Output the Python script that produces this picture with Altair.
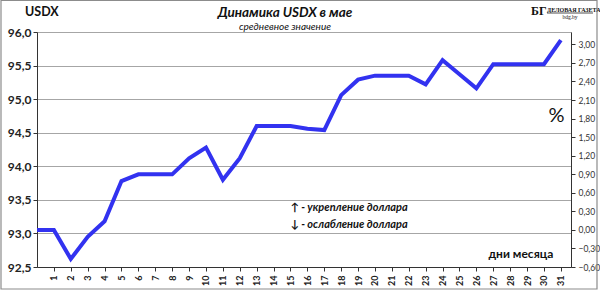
import altair as alt
import pandas as pd

# ---- data ----
days = list(range(0, 32))
usdx = [93.05, 93.05, 92.62, 92.95, 93.18, 93.78, 93.88, 93.88, 93.88, 94.12,
        94.28, 93.80, 94.12, 94.60, 94.60, 94.60, 94.56, 94.54, 95.06, 95.29,
        95.35, 95.35, 95.35, 95.22, 95.58, 95.37, 95.16, 95.52, 95.52, 95.52,
        95.52, 95.88]
base_value = 93.05
left_ticks = [92.5, 93.0, 93.5, 94.0, 94.5, 95.0, 95.5, 96.0]
right_ticks = [-0.6, -0.3, 0.0, 0.3, 0.6, 0.9, 1.2, 1.5, 1.8, 2.1, 2.4, 2.7, 3.0]
day_ticks = list(range(1, 32))

ann_days_pos = [15.0, 15.0, 30.55, 30.75]
ann_vals = [93.33, 93.08, 92.64, 94.66]
ann_texts = ["↑ - укрепление доллара", "↓ - ослабление доллара", "дни месяца", "%"]

df = pd.DataFrame({"day": days, "usdx": usdx})
ann = pd.DataFrame({"day": ann_days_pos, "usdx": ann_vals, "t": ann_texts})

FONT = "Lato"
LINE_COLOR = "#3232F0"

xscale = alt.Scale(domain=[0, 31.6], nice=False, zero=False)
yscale = alt.Scale(domain=[92.5, 96.0], nice=False, zero=False)

xaxis = alt.Axis(values=day_ticks, labelAngle=270, labelFontSize=9,
                 labelFontWeight="bold", labelFont=FONT, tickSize=4,
                 labelOverlap=False, labelFlush=False,
                 grid=False, title=None, domainColor="#333333",
                 tickColor="#333333", labelPadding=4, labelColor="#222222")
yaxis = alt.Axis(values=left_ticks,
                 labelExpr="replace(format(datum.value, '.1f'), '.', ',')",
                 labelFontSize=12, labelFontWeight="bold", labelFont=FONT,
                 labelColor="#222222", tickSize=4, grid=True,
                 labelOverlap=False, labelFlush=False,
                 gridColor="#a6a6a6", gridWidth=1.2,
                 domainColor="#333333", tickColor="#333333", title=None,
                 labelPadding=2)
raxis = alt.Axis(orient="right", values=right_ticks,
                 labelExpr="replace(format(datum.value, '.2f'), '.', ',')",
                 labelFontSize=8.5, labelFont=FONT, labelColor="#333333",
                 labelOverlap=False, labelFlush=False,
                 tickSize=4, grid=False, domainColor="#333333",
                 tickColor="#333333", title=None, labelPadding=3)

X = alt.X("day:Q", scale=xscale, axis=xaxis)
Y = alt.Y("usdx:Q", scale=yscale, axis=yaxis)

line = alt.Chart(df).mark_line(color=LINE_COLOR, strokeWidth=4, strokeJoin="miter").encode(
    x=X, y=Y)

pct = alt.Chart(df).transform_calculate(
    pct=f"(datum.usdx / {base_value} - 1) * 100"
).mark_line(opacity=0).encode(
    x=X,
    y=alt.Y("pct:Q", scale=alt.Scale(domain=[-0.6, 3.2], nice=False, zero=False),
            axis=raxis),
)

ann_small = alt.Chart(ann.iloc[:2]).mark_text(
    align="left", baseline="alphabetic", fontSize=11, fontStyle="italic",
    fontWeight="bold", font=FONT, color="#111111"
).encode(x=X, y=Y, text="t:N")
ann_dm = alt.Chart(ann.iloc[2:3]).mark_text(
    align="right", baseline="alphabetic", fontSize=12, fontWeight="bold",
    font=FONT, color="#111111"
).encode(x=X, y=Y, text="t:N")
ann_pct = alt.Chart(ann.iloc[3:4]).mark_text(
    align="center", baseline="alphabetic", fontSize=20, font=FONT, color="#111111"
).encode(x=X, y=Y, text="t:N")

one = pd.DataFrame({"k": [0]})

def txt(text, x, y, size, weight="normal", style="normal", align="left",
        font=FONT, color="#111111"):
    return alt.Chart(one).mark_text(
        align=align, baseline="alphabetic", fontSize=size, fontWeight=weight,
        fontStyle=style, font=font, color=color
    ).encode(x=alt.value(x), y=alt.value(y), text=alt.value(text))

# outer frame
frame = alt.Chart(one).mark_rect(fill=None, stroke="#8c8c8c", strokeWidth=1.2).encode(
    x=alt.value(-36), x2=alt.value(560), y=alt.value(-31.5), y2=alt.value(257)
)
logo_rule = alt.Chart(one).mark_rule(color="#222222", strokeWidth=0.8).encode(
    x=alt.value(510), x2=alt.value(556), y=alt.value(-19),
)

texts = [
    txt("USDX", -12, -16, 12.5, weight="bold"),
    txt("Динамика USDX в мае", 248, -15, 13.5, weight="bold", style="italic", align="center"),
    txt("средневное значение", 248, -2, 10, style="italic", align="center"),
    txt("БГ", 494, -17, 12, weight="bold", font="Liberation Serif"),
    txt("ДЕЛОВАЯ ГАЗЕТА", 510, -20.5, 6, weight="bold", font="Liberation Serif"),
    txt("bdg.by", 533, -13.5, 5.5, font="Liberation Serif", align="center"),
]

left = alt.layer(line, ann_small, ann_dm, ann_pct, frame, logo_rule, *texts)

chart = alt.layer(left, pct).resolve_scale(y="independent").properties(
    width=534, height=235,
    autosize=alt.AutoSizeParams(type="none"),
    padding={"left": 37, "top": 32, "right": 29, "bottom": 24},
).configure_view(stroke=None).configure(background="white")

chart.save("out.html", embed_options={"renderer": "svg", "actions": False})
